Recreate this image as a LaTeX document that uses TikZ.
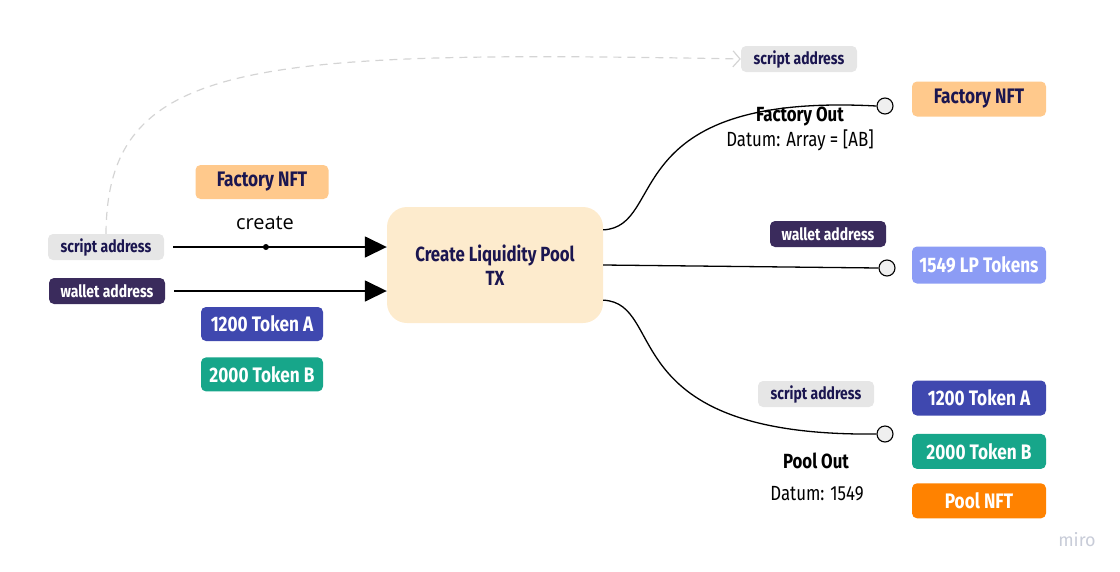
\documentclass[tikz,border=0pt]{standalone}
\usepackage{fontspec}
\setmainfont{Fira Sans}
\newfontfamily\boxfont[FakeStretch=0.82]{Fira Sans}
\newfontfamily\createfont{Open Sans}
\usetikzlibrary{positioning,arrows.meta}
\definecolor{navy}{HTML}{1B1650}
\definecolor{scriptgray}{HTML}{E6E6E6}
\definecolor{walletpurple}{HTML}{3A2B5C}
\definecolor{factory}{HTML}{FFC98C}
\definecolor{tokena}{HTML}{3F48AF}
\definecolor{tokenb}{HTML}{17A68A}
\definecolor{lpblue}{HTML}{8C9CF5}
\definecolor{poolorange}{HTML}{FF8200}
\definecolor{txfill}{HTML}{FDEBCD}
\definecolor{pin}{HTML}{EFEFEF}
\definecolor{dashgray}{HTML}{D4D4D4}
\definecolor{mirogray}{HTML}{C8CCD8}

\begin{document}
\begin{tikzpicture}[x=1pt,y=-1pt]

\tikzstyle{tag}=[rounded corners=5pt,inner sep=0pt,minimum height=35pt,minimum width=134pt,font=\boxfont\bfseries\fontsize{21}{25}\selectfont,text=white]
\tikzstyle{addr}=[tag,minimum height=26pt,minimum width=116pt,font=\boxfont\bfseries\fontsize{17}{20}\selectfont]
\tikzstyle{outpin}=[circle,draw,fill=pin,line width=1.1pt,minimum size=16pt,inner sep=0pt]
\tikzstyle{wire}=[line width=1.3pt]
\tikzstyle{feed}=[line width=1.6pt,-{Triangle[length=22pt,width=21pt]}]
\tikzstyle{annot}=[font=\boxfont\fontsize{20.5}{24}\selectfont,text=black]
\tikzstyle{annotb}=[annot,font=\boxfont\bfseries\fontsize{20.5}{24}\selectfont]

\useasboundingbox (0,0) rectangle (1120,571);

% inputs
\node[addr,fill=scriptgray,text=navy] (sa1) at (106,247) {script address};
\node[addr,fill=walletpurple] (wa1) at (107,291) {wallet address};
\node[tag,fill=factory,text=navy,minimum width=133pt,minimum height=34pt] (fn1) at (262,182) {Factory NFT};
\node[tag,fill=tokena,minimum width=122pt,minimum height=34pt] (ta1) at (262,324) {1200 Token A};
\node[tag,fill=tokenb,minimum width=122pt,minimum height=34pt,below=16pt of ta1] (tb1) {2000 Token B};
\node[font=\createfont\fontsize{20}{24}\selectfont] (crt) at (265,223) {create};

\node[fill=txfill,rounded corners=20pt,minimum width=216pt,minimum height=116pt,align=center,text=navy,
  font=\boxfont\bfseries\fontsize{20.5}{24}\selectfont] (tx) at (495,265) {Create Liquidity Pool\\TX};

\draw[feed,shorten <=9pt] (sa1) -- (sa1 -| tx.west)
  node[pos=0.457,circle,fill,inner sep=0pt,minimum size=6pt] (dot) {};
\draw[feed,shorten <=9pt] (wa1) -- (wa1 -| tx.west);

% outputs
\node[addr,fill=scriptgray,text=navy] (sa2) at (799,59) {script address};
\node[tag,fill=factory,text=navy] (fn2) at (979,99) {Factory NFT};
\node[addr,fill=walletpurple] (wa2) at (828,234) {wallet address};
\node[tag,fill=lpblue,minimum height=37pt] (lp) at (979,265) {1549 LP Tokens};
\node[addr,fill=scriptgray,text=navy] (sa3) at (816,394) {script address};
\node[tag,fill=tokena] (ta2) at (979,398) {1200 Token A};
\node[tag,fill=tokenb,below=18pt of ta2] (tb2) {2000 Token B};
\node[tag,fill=poolorange,below=14pt of tb2] (pn) {Pool NFT};

\node[outpin] (fo) at (885,106) {};
\node[outpin] (lo) at (887,268) {};
\node[outpin] (po) at (885,434) {};

\draw[wire] (tx.18) .. controls +(65,-3) and (615,92) .. (fo.west);
\draw[wire] (tx.east) -- (lo.west);
\draw[wire] (tx.-18) .. controls +(65,3) and (612,437) .. (po.west);

\node[annotb] (folbl) at (800,116) {Factory Out};
\node[annot] (fodat) at (800,140) {Datum: Array = [AB]};
\node[annotb] (polbl) at (816,461) {Pool Out};
\node[annot] (podat) at (817,494) {Datum: 1549};

% script address hand-over
\draw[dashgray,line width=1.2pt,dash pattern=on 8pt off 6pt,-{Straight Barb[length=7pt,width=16pt]}]
  (sa1.north) .. controls (107,60) and (250,50) .. (sa2.west);

\node[text=mirogray,font=\fontsize{18}{20}\selectfont] (miro) at (1077,540) {miro};

\end{tikzpicture}
\end{document}
